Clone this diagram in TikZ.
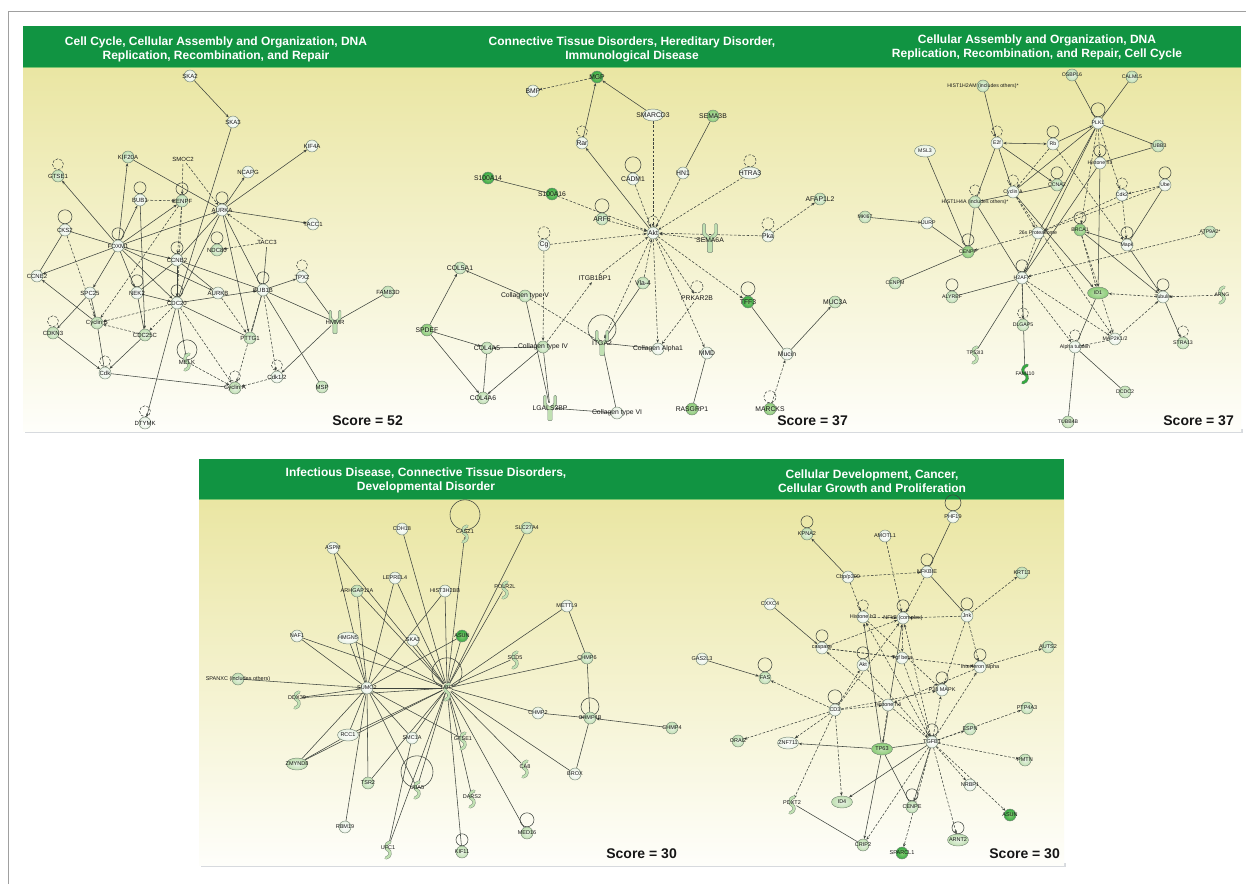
\documentclass[tikz,border=0pt]{standalone}
\usepackage{fontspec}
\setmainfont{Liberation Sans}
\usetikzlibrary{arrows.meta,shapes.geometric}
\definecolor{bandGreen}{RGB}{17,148,66}
\definecolor{bandEdge}{RGB}{122,196,110}
\definecolor{paperYellow}{RGB}{234,230,163}
\definecolor{paperWhite}{RGB}{254,254,250}
\definecolor{frameGray}{RGB}{160,160,160}
\definecolor{shadowGray}{RGB}{215,218,222}
\definecolor{edgeGray}{RGB}{62,68,62}
\definecolor{nodeLine}{RGB}{120,136,120}
\definecolor{geneWhite}{RGB}{232,242,228}
\definecolor{geneLight}{RGB}{192,224,178}
\definecolor{geneMid}{RGB}{138,204,118}
\definecolor{geneDark}{RGB}{52,170,64}
\definecolor{inkBlack}{RGB}{22,22,22}
\pgfdeclarelayer{paper}
\pgfdeclarelayer{back}
\pgfsetlayers{paper,back,main}

\tikzset{
  geneW/.style={circle, draw=nodeLine, line width=0.45pt, minimum size=12pt, inner sep=0pt, inner color=white, outer color=geneWhite},
  geneL/.style={geneW, inner color=geneWhite, outer color=geneLight},
  geneM/.style={geneW, inner color=geneLight, outer color=geneMid},
  geneD/.style={geneW, inner color=geneMid, outer color=geneDark},
  cplx/.style={ellipse, minimum width=21pt, minimum height=12pt},
  hub/.style={circle, minimum size=10pt, inner sep=0pt},
  lbl/.style={font=\fontsize{6}{6.5}\selectfont, text=inkBlack, inner sep=0pt},
  act/.style={draw=edgeGray, line width=0.55pt, -{Stealth[length=3.4pt,width=2.7pt]}},
  dual/.style={act, {Stealth[length=3.4pt,width=2.7pt]}-{Stealth[length=3.4pt,width=2.7pt]}},
  lnk/.style={draw=edgeGray, line width=0.55pt},
  ind/.style={act, dash pattern=on 2.6pt off 1.6pt},
  selfs/.style={draw=edgeGray, line width=0.55pt},
  selfd/.style={selfs, dash pattern=on 2.6pt off 1.6pt},
  band title/.style={text=white, font=\fontsize{12}{14}\selectfont\bfseries, align=center, inner sep=0pt},
  score/.style={text=inkBlack, font=\fontsize{14}{16}\selectfont\bfseries, inner sep=0pt, anchor=east},
  enz fill/.store in=\enzfill, enz fill=geneLight,
  enzyme/.pic={\draw[nodeLine, line width=0.45pt, double=\enzfill, double distance=2.2pt, line cap=round] (2,-8) .. controls (-3,-7) and (-3,-1) .. (0,0) .. controls (3,1) and (3,7) .. (-2,8);},
  receptor/.pic={\draw[nodeLine, line width=0.45pt, fill=geneLight, rounded corners=1pt] (-1.6,9) -- (-1.6,1) -- (-4.6,-2) -- (-4.6,-9) -- (-2.8,-9) -- (-2.8,-3) -- (0,-0.6) -- (2.8,-3) -- (2.8,-9) -- (4.6,-9) -- (4.6,-2) -- (1.6,1) -- (1.6,9) -- cycle;},
}

\begin{document}
\begin{tikzpicture}[x=1pt, y=-1pt]
\useasboundingbox (0,0) rectangle (1246,884);

% paper and bands
\begin{pgfonlayer}{paper}
\fill[white] (0,0) rectangle (1246,884);
\draw[frameGray, line width=0.8pt] (8.5,884) -- (8.5,11) -- (1246,11);
\fill[shadowGray] (25,429) rectangle (1243,433);
\shade[top color=paperYellow, bottom color=paperWhite] (23,68) rectangle (1241,431);
\fill[bandGreen] (23,26) rectangle (1241,68);
\draw[bandEdge, line width=1.2pt] (23,67.4) -- (1241,67.4);
\fill[shadowGray] (201,863) rectangle (1066,867);
\shade[top color=paperYellow, bottom color=paperWhite] (199,500) rectangle (1064,865);
\fill[bandGreen] (199,459) rectangle (1064,500);
\draw[bandEdge, line width=1.2pt] (199,499.4) -- (1064,499.4);
\end{pgfonlayer}

\node[band title] (title1) at (216,49) {Cell Cycle, Cellular Assembly and Organization, DNA\\Replication, Recombination, and Repair};
\node[band title] (title2) at (632,49) {Connective Tissue Disorders, Hereditary Disorder,\\Immunological Disease};
\node[band title] (title3) at (1037,47) {Cellular Assembly and Organization, DNA\\Replication, Recombination, and Repair, Cell Cycle};
\node[band title] (title4) at (426,480) {Infectious Disease, Connective Tissue Disorders,\\Developmental Disorder};
\node[band title] (title5) at (872,481) {Cellular Development, Cancer,\\Cellular Growth and Proliferation};

\node[score] (score1) at (403,421) {Score = 52};
\node[score] (score2) at (848,421) {Score = 37};
\node[score] (score3) at (1234,421) {Score = 37};
\node[score] (score4) at (677,854) {Score = 30};
\node[score] (score5) at (1060,854) {Score = 30};

% network 1
\node[geneW, label={[lbl]center:SKA2}] (ska2) at (190,76) {};
\node[geneW, label={[lbl]center:SKA3}] (ska3) at (233,122) {};
\node[geneW, label={[lbl]center:KIF4A}] (kif4a) at (312,146) {};
\node[geneL, label={[lbl]center:KIF20A}] (kif20a) at (128,157) {};
\node[hub, label={[lbl]center:SMOC2}] (smoc2) at (183,159) {};
\node[geneW, label={[lbl]center:NCAPG}] (ncapg) at (248,172) {};
\node[geneL, label={[lbl]center:GTSE1}] (gtse1) at (58,176) {};
\node[geneW, label={[lbl]center:BUB1}] (bub1) at (140,200) {};
\node[geneL, label={[lbl]center:CENPF}] (cenpf) at (182,201) {};
\node[geneW, label={[lbl]center:AURKA}] (aurka) at (222,210) {};
\node[geneW, label={[lbl]center:TACC1}] (tacc1) at (313,224) {};
\node[geneW, label={[lbl]center:CKS2}] (cks2) at (65,230) {};
\node[geneW, label={[lbl]center:FOXM1}] (foxm1) at (118,246) {};
\node[hub, label={[lbl]center:TACC3}] (tacc3) at (267,242) {};
\node[geneL, label={[lbl]center:NDC80}] (ndc80) at (217,250) {};
\node[geneW, label={[lbl]center:CCNB2}] (ccnb2) at (177,260) {};
\node[geneW, label={[lbl]center:CCNE2}] (ccne2) at (37,276) {};
\node[geneW, label={[lbl]center:SPC25}] (spc25) at (90,293) {};
\node[geneW, label={[lbl]center:NEK2}] (nek2) at (137,293) {};
\node[geneW, label={[lbl]center:CDC20}] (cdc20) at (177,303) {};
\node[geneW, label={[lbl]center:AURKB}] (aurkb) at (218,293) {};
\node[geneW, label={[lbl]center:BUB1B}] (bub1b) at (263,290) {};
\node[geneW, label={[lbl]center:TPX2}] (tpx2) at (302,277) {};
\node[geneL, label={[lbl]center:FAM83D}] (fam83d) at (388,292) {};
\pic[scale=1.3] at (335,322) {receptor};
\node[hub, label={[lbl]center:HMMR}] (hmmr) at (335,322) {};
\node[geneL, label={[lbl]center:Cyclin B}] (cycb) at (97,323) {};
\node[geneL, label={[lbl]center:CDKN3}] (cdkn3) at (53,333) {};
\node[geneL, label={[lbl]center:CDC25C}] (cdc25c) at (145,335) {};
\node[geneL, label={[lbl]center:PTTG1}] (pttg1) at (250,338) {};
\pic at (187,362) {enzyme};
\node[hub, label={[lbl]center:MELK}] (melk) at (187,362) {};
\node[geneW, label={[lbl]center:Cdk}] (cdk) at (105,373) {};
\node[geneL, label={[lbl]center:Cyclin A}] (cyca) at (235,388) {};
\node[geneW, label={[lbl]center:Cdk1/2}] (cdk12) at (277,377) {};
\node[geneL, label={[lbl]center:MSP}] (msp) at (322,387) {};
\node[geneW, label={[lbl]center:DTYMK}] (dtymk) at (145,423) {};

\begin{pgfonlayer}{back}
\draw[selfd] ([yshift=5.5pt]gtse1.north) circle (5.5pt);
\draw[selfs] ([yshift=6pt]bub1.north) circle (6pt);
\draw[selfs] ([yshift=6pt]cenpf.north) circle (6pt);
\draw[selfs] ([yshift=6pt]aurka.north) circle (6pt);
\draw[selfs] ([yshift=7pt]cks2.north) circle (7pt);
\draw[selfs] ([yshift=6pt]foxm1.north) circle (6pt);
\draw[selfs] ([yshift=6pt]ndc80.north) circle (6pt);
\draw[selfs] ([yshift=6pt]ccnb2.north) circle (6pt);
\draw[selfs] ([yshift=6pt]nek2.north) circle (6pt);
\draw[selfs] ([yshift=6pt]cdc20.north) circle (6pt);
\draw[selfs] ([yshift=6pt]bub1b.north) circle (6pt);
\draw[selfd] ([yshift=5.5pt]tpx2.north) circle (5.5pt);
\draw[selfd] ([yshift=5.5pt]cdkn3.north) circle (5.5pt);
\draw[selfd] ([yshift=5.5pt]cdk.north) circle (5.5pt);
\draw[selfs] ([yshift=7pt]melk.north) circle (10pt);
\draw[selfd] ([yshift=5.5pt]cdk12.north) circle (5.5pt);
\draw[selfd] ([yshift=5.5pt]cyca.north) circle (5.5pt);
\draw[selfd] ([yshift=5.5pt]dtymk.north) circle (5.5pt);
\draw[act] (ska2) -- (ska3);
\draw[lnk] (ska3) -- (cdc20);
\draw[act] (aurka) edge (kif4a) edge (ncapg) edge (tacc1) edge (pttg1);
\draw[lnk] (kif20a) -- (aurka);
\draw[act] (foxm1) edge (kif20a) edge (gtse1) edge (ccne2) edge (bub1) edge (spc25) edge (nek2) edge (cdc20) edge (aurka) edge (aurkb) edge (ccnb2) edge (cenpf);
\draw[lnk] (cks2) edge (ccne2) edge (foxm1);
\draw[ind] (cks2) -- (cycb);
\draw[ind] (smoc2) edge (cenpf) edge (aurka);
\draw[ind] (bub1) -- (cenpf);
\draw[act] (bub1) -- (cdc25c);
\draw[ind] (tacc3) edge (ndc80) edge (aurka);
\draw[lnk] (tacc3) -- (bub1b);
\draw[lnk] (aurka) edge (ccnb2) edge (cdc20) edge (bub1b);
\draw[ind] (cenpf) edge (ccnb2) edge (cycb) edge (cdc20);
\draw[act] (ccnb2) -- (cdc20);
\draw[lnk] (ccnb2) edge (nek2) edge (aurkb) edge (bub1b);
\draw[act] (cdc20) edge (melk) edge (dtymk) edge (bub1b);
\draw[ind] (cdc20) edge (cycb) edge (cdc25c) edge (cyca);
\draw[act] (nek2) -- (cdc20);
\draw[lnk] (nek2) -- (cdc25c);
\draw[act] (bub1b) -- (tpx2);
\draw[lnk] (bub1b) edge (pttg1) edge (msp) edge (hmmr);
\draw[ind] (bub1b) edge (cyca) edge (cdk12);
\draw[lnk] (tpx2) -- (hmmr);
\draw[lnk] (fam83d) -- (hmmr);
\draw[act] (hmmr) -- (cdk12);
\draw[act] (spc25) -- (cdkn3);
\draw[lnk] (spc25) -- (cycb);
\draw[act] (cycb) -- (ccne2);
\draw[lnk] (cycb) -- (cdk);
\draw[act] (cdkn3) -- (cdk);
\draw[act] (cdc25c) -- (cdk);
\draw[ind] (cdc25c) -- (cycb);
\draw[lnk] (cdk) -- (cyca);
\draw[ind] (cdk12) -- (cyca);
\draw[ind] (melk) -- (cyca);
\draw[lnk] (pttg1) -- (cdc20);
\draw[ind] (aurkb) -- (pttg1);
\end{pgfonlayer}

% network 2
\begin{scope}[lbl/.append style={font=\fontsize{6.8}{7.2}\selectfont}]
\node[geneD, label={[lbl]center:MGP}] (mgp) at (597,77) {};
\node[geneW, label={[lbl]center:BMP}] (bmp) at (533,91) {};
\node[geneW, cplx, label={[lbl]center:SMARCD3}] (smarcd3) at (653,115) {};
\node[geneM, label={[lbl]center:SEMA3B}] (sema3b) at (713,116) {};
\node[geneW, label={[lbl]center:Rar}] (rar) at (582,143) {};
\node[geneD, label={[lbl]center:S100A14}] (s100a14) at (488,178) {};
\node[geneW, label={[lbl]center:CADM1}] (cadm1) at (633,179) {};
\node[geneW, label={[lbl]center:HN1}] (hn1) at (683,173) {};
\node[geneW, cplx, label={[lbl]center:HTRA3}] (htra3) at (750,173) {};
\node[geneD, label={[lbl]center:S100A16}] (s100a16) at (552,194) {};
\node[geneL, label={[lbl]center:AFAP1L2}] (afap1l2) at (820,199) {};
\node[geneL, label={[lbl]center:ARF6}] (arf6) at (602,219) {};
\node[geneW, label={[lbl]center:Akt}] (akt) at (653,233) {};
\pic[scale=1.6] at (710,238) {receptor};
\node[hub, label={[lbl]center:SEMA6A}] (sema6a) at (710,240) {};
\node[geneW, label={[lbl]center:Pka}] (pka) at (768,236) {};
\node[geneW, label={[lbl]center:Cg}] (cg) at (544,245) {};
\node[geneL, label={[lbl]center:COL5A1}] (col5a1) at (460,268) {};
\node[hub, label={[lbl]center:ITGB1BP1}] (itgb1bp1) at (595,278) {};
\node[geneL, label={[lbl]center:Vla-4}] (vla4) at (643,283) {};
\node[geneL, label={[lbl]center:Collagen type V}] (coltV) at (525,296) {};
\node[hub, label={[lbl]center:PRKAR2B}] (prkar2b) at (697,298) {};
\node[geneD, label={[lbl]center:TFF3}] (tff3) at (748,302) {};
\node[geneL, label={[lbl]center:MUC3A}] (muc3a) at (835,302) {};
\node[geneM, label={[lbl]center:SPDEF}] (spdef) at (427,330) {};
\node[geneL, label={[lbl]center:COL4A5}] (col4a5) at (487,348) {};
\node[geneL, label={[lbl]center:Collagen type IV}] (coltIV) at (543,347) {};
\pic[scale=1.4] at (602,343) {receptor};
\node[hub, label={[lbl]center:ITGA2}] (itga2) at (602,343) {};
\node[geneW, label={[lbl]center:Collagen Alpha1}] (colA1) at (658,349) {};
\node[geneW, label={[lbl]center:MMD}] (mmd) at (707,353) {};
\node[geneW, label={[lbl]center:Mucin}] (mucin) at (787,354) {};
\node[geneL, label={[lbl]center:COL4A6}] (col4a6) at (483,398) {};
\pic[scale=1.4] at (550,408) {receptor};
\node[hub, label={[lbl]center:LGALS3BP}] (lgals3bp) at (550,408) {};
\node[geneW, label={[lbl]center:Collagen type VI}] (coltVI) at (617,413) {};
\node[geneM, label={[lbl]center:RASGRP1}] (rasgrp1) at (692,409) {};
\node[geneM, label={[lbl]center:MARCKS}] (marcks) at (770,409) {};
\end{scope}

\begin{pgfonlayer}{back}
\draw[selfd] ([yshift=5.5pt]rar.north) circle (5.5pt);
\draw[selfs] ([yshift=8pt]cadm1.north) circle (8pt);
\draw[selfd] ([yshift=6pt]htra3.north) circle (6pt);
\draw[selfs] ([yshift=7pt]arf6.north) circle (7pt);
\draw[selfd] ([yshift=5.5pt]akt.north) circle (5.5pt);
\draw[selfd] ([yshift=6pt]cg.north) circle (6pt);
\draw[selfd] ([yshift=6pt]pka.north) circle (6pt);
\draw[selfs] ([yshift=9pt]itga2.north) circle (14pt);
\draw[selfd] ([yshift=6pt]prkar2b.north) circle (6pt);
\draw[selfs] ([yshift=7pt]tff3.north) circle (7pt);
\draw[selfd] ([yshift=6pt]marcks.north) circle (6pt);
\draw[ind] (mgp) -- (bmp);
\draw[act] (smarcd3) -- (mgp);
\draw[act] (rar) -- (mgp);
\draw[act] (akt) -- (rar);
\draw[ind] (smarcd3) -- (akt);
\draw[ind] (cadm1) -- (akt);
\draw[lnk] (sema3b) -- (hn1);
\draw[ind] (hn1) -- (akt);
\draw[ind] (htra3) -- (akt);
\draw[lnk] (s100a14) -- (s100a16);
\draw[ind] (s100a16) -- (akt);
\draw[ind] (arf6) -- (akt);
\draw[ind] (sema6a) -- (akt);
\draw[ind] (pka) edge (akt) edge (afap1l2);
\draw[ind] (cg) edge (akt) edge (coltIV);
\draw[ind] (coltIV) -- (itgb1bp1);
\draw[ind] (itgb1bp1) -- (akt);
\draw[ind] (vla4) -- (akt);
\draw[act] (vla4) -- (itga2);
\draw[ind] (akt) edge (itga2) edge (colA1) edge (prkar2b) edge (mmd) edge (tff3);
\draw[ind] (prkar2b) -- (colA1);
\draw[act] (coltV) -- (col5a1);
\draw[ind] (coltV) -- (itga2);
\draw[lnk] (coltV) -- (lgals3bp);
\draw[act] (spdef) edge (col5a1) edge (col4a5) edge (col4a6);
\draw[act] (coltIV) edge (col4a5) edge (col4a6);
\draw[lnk] (col4a5) -- (col4a6);
\draw[lnk] (coltIV) -- (lgals3bp);
\draw[lnk] (itga2) edge (colA1) edge (coltVI);
\draw[lnk] (lgals3bp) -- (coltVI);
\draw[lnk] (mmd) -- (rasgrp1);
\draw[lnk] (tff3) -- (mucin);
\draw[act] (mucin) -- (muc3a);
\draw[ind] (marcks) -- (mucin);
\end{pgfonlayer}

% network 3
\begin{scope}[lbl/.append style={font=\fontsize{5.2}{5.6}\selectfont}]
\node[geneL, label={[lbl]center:OSBPL6}] (osbpl6) at (1072,75) {};
\node[geneL, label={[lbl]center:CALML5}] (calml5) at (1132,77) {};
\node[geneL, label={[lbl]center:HIST1H2AM (includes others)*}] (hist2am) at (983,86) {};
\node[geneW, label={[lbl]center:PLK1}] (plk1) at (1098,123) {};
\node[geneW, label={[lbl]center:E2f}] (e2f) at (997,143) {};
\node[geneW, label={[lbl]center:Rb}] (rb) at (1053,144) {};
\node[geneL, label={[lbl]center:TUBB3}] (tubb3) at (1158,146) {};
\node[geneW, cplx, label={[lbl]center:MSL3}] (msl3) at (925,151) {};
\node[geneW, label={[lbl]center:Histone h3}] (hish3) at (1100,163) {};
\node[geneL, label={[lbl]center:CCNA2}] (ccna2) at (1057,185) {};
\node[geneW, label={[lbl]center:Cyclin A}] (cyca3) at (1013,192) {};
\node[geneL, label={[lbl]center:HIST1H4A (includes others)*}] (hist4a) at (975,202) {};
\node[geneW, label={[lbl]center:Cdk2}] (cdk2) at (1122,195) {};
\node[geneW, label={[lbl]center:Ube}] (ube) at (1165,185) {};
\node[geneL, label={[lbl]center:MKI67}] (mki67) at (865,217) {};
\node[geneW, label={[lbl]center:HJURP}] (hjurp) at (927,223) {};
\node[geneW, label={[lbl]center:26s Proteasome}] (prot26) at (1038,233) {};
\node[geneM, label={[lbl]center:BRCA1}] (brca1) at (1080,230) {};
\node[geneL, label={[lbl]center:ATP9A2*}] (atp9a2) at (1210,232) {};
\node[geneW, label={[lbl]center:Mapk}] (mapk) at (1127,245) {};
\node[geneM, label={[lbl]center:CENPF}] (cenpf3) at (968,252) {};
\node[geneW, label={[lbl]center:H2AFX}] (h2afx) at (1022,278) {};
\node[geneL, label={[lbl]center:CENPM}] (cenpm) at (895,283) {};
\node[geneL, label={[lbl]center:ALYREF}] (alyref) at (952,297) {};
\node[geneM, cplx, label={[lbl]center:ID1}] (id1) at (1098,293) {};
\node[geneW, label={[lbl]center:Tubulin}] (tubulin) at (1163,297) {};
\pic at (1222,295) {enzyme};
\node[hub, label={[lbl]center:ARNG}] (arng) at (1222,295) {};
\node[geneL, label={[lbl]center:DLGAP5}] (dlgap5) at (1023,325) {};
\node[geneW, label={[lbl]center:MAP2K1/2}] (map2k) at (1115,339) {};
\node[geneW, label={[lbl]center:Alpha tubulin}] (atub) at (1075,347) {};
\node[geneL, label={[lbl]center:STRA13}] (stra13) at (1183,343) {};
\pic at (975,355) {enzyme};
\node[hub, label={[lbl]center:TP53I3}] (tp53i3) at (975,353) {};
\pic[scale=1.1, enz fill=geneDark] at (1025,374) {enzyme};
\node[hub, label={[lbl]center:FAM110}] (fam110) at (1025,374) {};
\node[geneL, label={[lbl]center:DCDC2}] (dcdc2) at (1125,392) {};
\node[geneL, label={[lbl]center:TUBB4B}] (tubb4b) at (1068,422) {};
\end{scope}

\begin{pgfonlayer}{back}
\draw[selfs] ([yshift=7pt]plk1.north) circle (7pt);
\draw[selfd] ([yshift=5.5pt]e2f.north) circle (5.5pt);
\draw[selfs] ([yshift=6pt]rb.north) circle (6pt);
\draw[selfs] ([yshift=6pt]hish3.north) circle (6pt);
\draw[selfs] ([yshift=6pt]ccna2.north) circle (6pt);
\draw[selfd] ([yshift=5.5pt]cyca3.north) circle (5.5pt);
\draw[selfd] ([yshift=5.5pt]hist4a.north) circle (5.5pt);
\draw[selfd] ([yshift=5.5pt]cdk2.north) circle (5.5pt);
\draw[selfs] ([yshift=6pt]ube.north) circle (6pt);
\draw[selfs] ([yshift=6pt]brca1.north) circle (6pt);
\draw[selfs] ([yshift=6pt]mapk.north) circle (6pt);
\draw[selfs] ([yshift=6pt]cenpf3.north) circle (6pt);
\draw[selfs] ([yshift=6pt]h2afx.north) circle (6pt);
\draw[selfs] ([yshift=6pt]alyref.north) circle (6pt);
\draw[selfd] ([yshift=5.5pt]dlgap5.north) circle (5.5pt);
\draw[selfd] ([yshift=5.5pt]atub.north) circle (5.5pt);
\draw[selfd] ([yshift=5.5pt]stra13.north) circle (5.5pt);
\draw[selfs] ([yshift=6pt]tubulin.north) circle (6pt);
\draw[act] (hist2am) -- (e2f);
\draw[lnk] (osbpl6) -- (plk1);
\draw[lnk] (calml5) -- (plk1);
\draw[lnk] (plk1) -- (tubb3);
\draw[dual] (e2f) -- (rb);
\draw[act] (rb) -- (plk1);
\draw[act] (e2f) edge (cyca3) edge (ccna2);
\draw[lnk] (e2f) -- (hist4a);
\draw[ind] (rb) edge (cyca3) edge (mapk);
\draw[lnk] (msl3) -- (cenpf3);
\draw[lnk] (hist4a) edge (cenpf3) edge (h2afx) edge (ccna2);
\draw[lnk] (mki67) -- (hjurp);
\draw[lnk] (hjurp) -- (cenpf3);
\draw[lnk] (cenpm) -- (cenpf3);
\draw[ind] (plk1) edge (hish3) edge (cdk2) edge (brca1);
\draw[lnk] (plk1) edge (prot26) edge (h2afx) edge (cyca3);
\draw[lnk] (tubb3) -- (hish3);
\draw[lnk] (hish3) -- (h2afx);
\draw[act] (hish3) -- (id1);
\draw[ind] (cdk2) edge (prot26) edge (mapk);
\draw[ind] (ube) edge (cdk2) edge (prot26);
\draw[lnk] (ube) -- (mapk);
\draw[ind] (atp9a2) -- (h2afx);
\draw[act] (mapk) edge (brca1) edge (tubulin);
\draw[ind] (prot26) edge (cenpf3) edge (h2afx);
\draw[ind] (cyca3) edge (prot26) edge (map2k);
\draw[act] (cyca3) -- (id1);
\draw[ind] (brca1) edge (id1) edge (map2k);
\draw[act] (brca1) -- (tubulin);
\draw[lnk] (id1) -- (atub);
\draw[ind] (tubulin) -- (id1);
\draw[act] (tubulin) -- (stra13);
\draw[ind] (arng) -- (tubulin);
\draw[ind] (map2k) edge (tubulin) edge (atub);
\draw[ind] (h2afx) edge (dlgap5) edge (atub) edge (map2k);
\draw[lnk] (h2afx) edge (tp53i3) edge (fam110) edge (alyref);
\draw[lnk] (atub) edge (dcdc2) edge (tubb4b);
\end{pgfonlayer}

% network 4
\begin{scope}[lbl/.append style={font=\fontsize{5.5}{6}\selectfont}]
\pic at (465,534) {enzyme};
\node[hub, label={[lbl]center:CASZ1}] (casz1) at (465,532) {};
\node[geneW, label={[lbl]center:CDH18}] (cdh18) at (402,529) {};
\node[geneL, label={[lbl]center:SLC27A4}] (slc27a4) at (527,528) {};
\node[geneW, label={[lbl]center:ASPM}] (aspm) at (333,548) {};
\node[geneW, label={[lbl]center:LEPREL4}] (leprel4) at (395,578) {};
\node[geneL, label={[lbl]center:ARHGAP11A}] (arhgap) at (357,591) {};
\node[geneW, label={[lbl]center:HIST3H2BB}] (hist3h2bb) at (445,591) {};
\pic at (505,590) {enzyme};
\node[hub, label={[lbl]center:POLR2L}] (polr2l) at (505,587) {};
\node[geneW, label={[lbl]center:METTL9}] (mettl9) at (567,606) {};
\node[geneW, label={[lbl]center:NAF1}] (naf1) at (297,636) {};
\node[geneW, cplx, label={[lbl]center:HMGN5}] (hmgn5) at (348,638) {};
\node[geneW, label={[lbl]center:SKA3}] (ska3b) at (413,640) {};
\node[geneD, label={[lbl]center:ASUN}] (asun) at (462,636) {};
\pic at (515,660) {enzyme};
\node[hub, label={[lbl]center:SCD5}] (scd5) at (515,658) {};
\node[geneL, label={[lbl]center:CHMP6}] (chmp6) at (587,658) {};
\node[geneL, label={[lbl]center:SPANXC (includes others)}] (spanxc) at (238,679) {};
\node[geneW, label={[lbl]center:SUMO2}] (sumo2) at (367,688) {};
\pic at (447,692) {enzyme};
\node[hub, label={[lbl]center:UBC}] (ubc) at (447,688) {};
\pic at (297,700) {enzyme};
\node[hub, label={[lbl]center:DDX39}] (ddx39) at (297,698) {};
\node[geneW, label={[lbl]center:CHMP2}] (chmp2) at (538,713) {};
\node[geneL, label={[lbl]center:CHMP4B}] (chmp4b) at (590,718) {};
\node[geneL, label={[lbl]center:CHMP4}] (chmp4) at (672,728) {};
\node[geneW, cplx, label={[lbl]center:RCC1}] (rcc1) at (348,735) {};
\node[geneW, label={[lbl]center:SMC1A}] (smc1a) at (412,738) {};
\pic at (463,741) {enzyme};
\node[hub, label={[lbl]center:GTSE1}] (gtse1b) at (463,739) {};
\node[geneL, cplx, label={[lbl]center:ZMYND8}] (zmynd8) at (297,764) {};
\pic at (525,769) {enzyme};
\node[hub, label={[lbl]center:CA8}] (ca8) at (525,767) {};
\node[geneW, label={[lbl]center:BROX}] (brox) at (575,774) {};
\node[geneL, label={[lbl]center:TSR2}] (tsr2) at (368,783) {};
\pic at (417,790) {enzyme};
\node[hub, label={[lbl]center:UBA5}] (uba5) at (417,788) {};
\pic at (472,799) {enzyme};
\node[hub, label={[lbl]center:DARS2}] (dars2) at (472,797) {};
\node[geneW, label={[lbl]center:RBM19}] (rbm19) at (345,827) {};
\node[geneL, label={[lbl]center:MED16}] (med16) at (527,833) {};
\pic at (388,850) {enzyme};
\node[hub, label={[lbl]center:UFC1}] (ufc1) at (388,848) {};
\node[geneL, label={[lbl]center:KIF11}] (kif11) at (462,852) {};
\end{scope}

\begin{pgfonlayer}{back}
\draw[selfs] ([yshift=12pt]casz1.north) circle (15pt);
\draw[selfs] ([yshift=10pt]ubc.north) circle (15pt);
\draw[selfs] ([yshift=11pt]uba5.north) circle (16pt);
\draw[selfs] ([yshift=5pt]chmp4b.north) circle (9pt);
\draw[selfs] ([yshift=7pt]med16.north) circle (7pt);
\draw[selfs] ([yshift=6pt]kif11.north) circle (6pt);
\draw[lnk] (ubc) edge (cdh18) edge (casz1) edge (slc27a4) edge (aspm) edge (leprel4) edge (arhgap) edge (hist3h2bb) edge (polr2l) edge (mettl9) edge (naf1) edge (hmgn5) edge (ska3b) edge (asun) edge (scd5) edge (chmp6) edge (sumo2) edge (ddx39) edge (smc1a) edge (gtse1b) edge (zmynd8) edge (ca8) edge (brox) edge (uba5) edge (dars2) edge (med16) edge (ufc1) edge (kif11) edge (rcc1) edge (tsr2) edge (chmp2);
\draw[lnk] (sumo2) edge (spanxc) edge (naf1) edge (hmgn5) edge (aspm) edge (arhgap) edge (leprel4) edge (hist3h2bb) edge (asun) edge (ddx39) edge (rcc1) edge (zmynd8) edge (tsr2) edge (rbm19) edge (smc1a) edge (gtse1b) edge (uba5);
\draw[lnk] (mettl9) -- (chmp6);
\draw[lnk] (chmp6) -- (chmp4b);
\draw[lnk] (chmp4b) -- (brox);
\draw[act] (chmp4) -- (chmp4b);
\draw[act] (chmp2) -- (chmp4b);
\draw[lnk] (rcc1) -- (zmynd8);
\draw[lnk] (smc1a) -- (ufc1);
\end{pgfonlayer}

% network 5
\begin{scope}[lbl/.append style={font=\fontsize{5.5}{6}\selectfont}]
\node[geneW, label={[lbl]center:PHF19}] (phf19) at (953,517) {};
\node[geneL, label={[lbl]center:KPNA2}] (kpna2) at (807,534) {};
\node[geneW, label={[lbl]center:AMOTL1}] (amotl1) at (885,536) {};
\node[geneW, label={[lbl]center:Cbp/p300}] (cbp) at (848,577) {};
\node[geneW, label={[lbl]center:NFKBIE}] (nfkbie) at (927,572) {};
\node[geneL, label={[lbl]center:KRT13}] (krt13) at (1022,573) {};
\node[geneW, label={[lbl]center:CXXC4}] (cxxc4) at (770,604) {};
\node[geneW, label={[lbl]center:Histone h3}] (hish3b) at (863,617) {};
\node[geneW, label={[lbl]center:NFkB (complex)}] (nfkb) at (903,618) {};
\node[geneW, label={[lbl]center:Jnk}] (jnk) at (967,616) {};
\node[geneW, label={[lbl]center:caspase}] (caspase) at (822,648) {};
\node[geneW, label={[lbl]center:GAS2L3}] (gas2l3) at (702,659) {};
\node[geneW, label={[lbl]center:Akt}] (akt5) at (863,665) {};
\node[geneW, label={[lbl]center:Tgf beta}] (tgfb) at (902,658) {};
\node[geneW, label={[lbl]center:Interferon alpha}] (ifna) at (980,667) {};
\node[geneL, label={[lbl]center:AUTS2}] (auts2) at (1048,647) {};
\node[geneL, label={[lbl]center:FAS}] (fas) at (765,678) {};
\node[geneW, label={[lbl]center:P38 MAPK}] (p38) at (942,690) {};
\node[geneW, label={[lbl]center:CD3}] (cd3) at (835,710) {};
\node[geneW, label={[lbl]center:Histone h4}] (hish4) at (888,705) {};
\node[geneL, label={[lbl]center:PTP4A3}] (ptp4a3) at (1027,708) {};
\node[geneL, label={[lbl]center:ORAI2}] (orai2) at (738,741) {};
\node[geneW, cplx, label={[lbl]center:ZNF711}] (znf711) at (788,743) {};
\node[geneM, cplx, label={[lbl]center:TP63}] (tp63) at (882,749) {};
\node[geneW, label={[lbl]center:TGFB1}] (tgfb1) at (932,742) {};
\node[geneL, label={[lbl]center:ESPN}] (espn) at (970,729) {};
\node[geneL, label={[lbl]center:PMTN}] (pmtn) at (1025,760) {};
\node[geneW, label={[lbl]center:NRBP1}] (nrbp1) at (970,785) {};
\pic at (792,805) {enzyme};
\node[hub, label={[lbl]center:PDXT2}] (pdxt2) at (792,803) {};
\node[geneL, cplx, label={[lbl]center:ID4}] (id4) at (842,802) {};
\node[geneL, label={[lbl]center:CENPE}] (cenpe) at (912,807) {};
\node[geneD, label={[lbl]center:ASUN}] (asun5) at (1010,815) {};
\node[geneL, cplx, label={[lbl]center:ARNT2}] (arnt2) at (958,840) {};
\node[geneL, label={[lbl]center:CRIP2}] (crip2) at (863,845) {};
\node[geneD, label={[lbl]center:SPARCL1}] (sparcl1) at (902,853) {};
\end{scope}

\begin{pgfonlayer}{back}
\draw[selfs] ([yshift=8pt]phf19.north) circle (8pt);
\draw[selfs] ([yshift=6pt]kpna2.north) circle (6pt);
\draw[selfs] ([yshift=6pt]nfkbie.north) circle (6pt);
\draw[selfd] ([yshift=5.5pt]hish3b.north) circle (5.5pt);
\draw[selfs] ([yshift=6pt]nfkb.north) circle (6pt);
\draw[selfs] ([yshift=6pt]jnk.north) circle (6pt);
\draw[selfs] ([yshift=6pt]caspase.north) circle (6pt);
\draw[selfs] ([yshift=6pt]akt5.north) circle (6pt);
\draw[selfs] ([yshift=6pt]ifna.north) circle (6pt);
\draw[selfs] ([yshift=7pt]fas.north) circle (7pt);
\draw[selfs] ([yshift=6pt]p38.north) circle (6pt);
\draw[selfs] ([yshift=7pt]cd3.north) circle (7pt);
\draw[selfs] ([yshift=6pt]tgfb1.north) circle (6pt);
\draw[selfs] ([yshift=6pt]cenpe.north) circle (6pt);
\draw[selfs] ([yshift=6pt]arnt2.north) circle (6pt);
\draw[act] (cbp) -- (kpna2);
\draw[ind] (cbp) edge (nfkbie) edge (hish3b);
\draw[ind] (amotl1) -- (nfkb);
\draw[lnk] (phf19) -- (nfkbie);
\draw[act] (nfkbie) -- (jnk);
\draw[ind] (nfkbie) -- (nfkb);
\draw[ind] (jnk) edge (krt13) edge (nfkb) edge (ifna) edge (p38);
\draw[act] (cxxc4) -- (caspase);
\draw[ind] (caspase) edge (nfkb) edge (tgfb) edge (ifna);
\draw[ind] (hish3b) edge (p38) edge (nfkb);
\draw[ind] (ifna) edge (auts2) edge (hish4);
\draw[ind] (nfkb) -- (tgfb);
\draw[act] (gas2l3) -- (fas);
\draw[ind] (cd3) edge (fas) edge (akt5) edge (nfkb) edge (hish4) edge (orai2) edge (znf711) edge (pdxt2) edge (id4) edge (p38);
\draw[ind] (tgfb1) edge (espn) edge (ptp4a3) edge (pmtn) edge (nrbp1) edge (asun5) edge (arnt2) edge (sparcl1) edge (crip2) edge (nfkb) edge (hish3b) edge (p38) edge (caspase) edge (ifna);
\draw[act] (tgfb1) edge (cenpe) edge (id4);
\draw[lnk] (tgfb1) -- (tp63);
\draw[act] (tp63) edge (znf711) edge (crip2) edge (nfkb) edge (hish3b);
\draw[lnk] (tp63) -- (cenpe);
\draw[lnk] (pdxt2) -- (crip2);
\draw[ind] (hish4) -- (tp63);
\draw[ind] (akt5) -- (tgfb1);
\draw[ind] (tgfb) -- (tgfb1);
\end{pgfonlayer}
\end{tikzpicture}
\end{document}
